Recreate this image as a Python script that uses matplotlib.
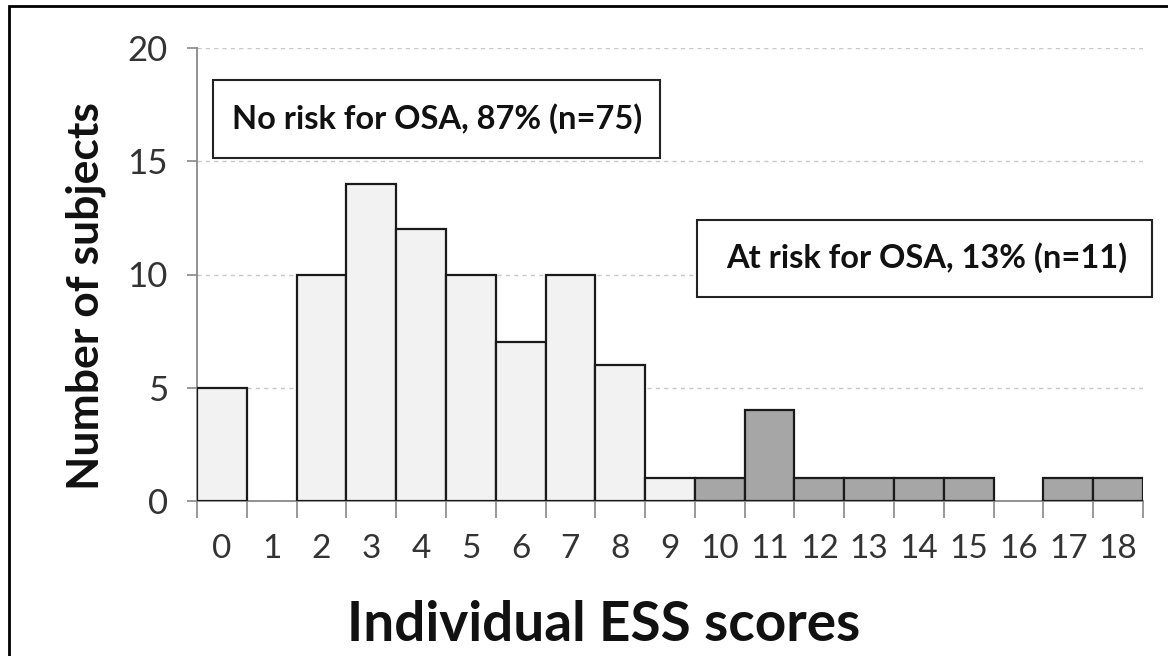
import matplotlib
matplotlib.use("Agg")
import matplotlib.pyplot as plt
import numpy as np
from matplotlib.patches import Rectangle

scores = list(range(19))
no_risk = [5, 0, 10, 14, 12, 10, 7, 10, 6, 1, 0, 0, 0, 0, 0, 0, 0, 0, 0]
at_risk = [0, 0, 0, 0, 0, 0, 0, 0, 0, 0, 1, 4, 1, 1, 1, 1, 0, 1, 1]
y_ticks = [0, 5, 10, 15, 20]
label_no = "No risk for OSA, 87% (n=75)"
label_at = "At risk for OSA, 13% (n=11)"

plt.rcParams['font.family'] = ['Lato', 'DejaVu Sans']

fig = plt.figure(figsize=(11.68, 6.56), dpi=100)
ax = fig.add_axes([197/1168, 1-501/656, (1143-197)/1168, (501-48)/656])

x = np.array(scores)
nr = np.array(no_risk)
ar = np.array(at_risk)
ax.bar(x[nr > 0], nr[nr > 0], width=1.0, color='#f2f2f2', edgecolor='#1a1a1a', linewidth=1.6, zorder=3)
ax.bar(x[ar > 0], ar[ar > 0], width=1.0, color='#a6a6a6', edgecolor='#1a1a1a', linewidth=1.6, zorder=3)

ax.set_xlim(-0.5, 18.5)
ax.set_ylim(0, 20)
ax.set_yticks(y_ticks)
ax.set_yticklabels([str(v) for v in y_ticks], fontsize=25, color='#333333')
ax.yaxis.grid(True, linestyle=(0, (3, 3)), color='#c8c8c8', linewidth=1.0, zorder=0)

ax.set_xticks(np.arange(-0.5, 19, 1.0))
ax.set_xticklabels([])
ax.set_xticks(x, minor=True)
ax.set_xticklabels([str(s) for s in scores], minor=True, fontsize=24, color='#333333')
ax.tick_params(axis='x', which='major', length=12, width=1.2, color='#888888', direction='out')
ax.tick_params(axis='x', which='minor', length=0, pad=24)
ax.tick_params(axis='y', length=7, width=1.2, color='#888888', pad=14)

for s in ['top', 'right']:
    ax.spines[s].set_visible(False)
for s in ['left', 'bottom']:
    ax.spines[s].set_color('#888888')
    ax.spines[s].set_linewidth(1.3)

fig.text(86/1168, 1-296/656, "Number of subjects", fontsize=32, fontweight='bold', rotation=90,
         ha='center', va='center', color='#111111')
fig.text(604/1168, 1-625/656, "Individual ESS scores", fontsize=39.5, fontweight='bold', ha='center', va='center', color='#111111')

fig.patches.append(Rectangle((213/1168, 1-158/656), (660-213)/1168, 78/656, transform=fig.transFigure,
                             fill=True, facecolor='white', edgecolor='#222222', linewidth=1.5, zorder=5))
fig.patches.append(Rectangle((697/1168, 1-297/656), (1152-697)/1168, 77/656, transform=fig.transFigure,
                             fill=True, facecolor='white', edgecolor='#222222', linewidth=1.5, zorder=5))
fig.text(437/1168, 1-119/656, label_no, fontsize=23.5, fontweight='bold', ha='center', va='center', color='#111111', zorder=6)
fig.text(927/1168, 1-258/656, label_at, fontsize=23.5, fontweight='bold', ha='center', va='center', color='#111111', zorder=6)

# outer frame
fig.patches.append(Rectangle((9/1168, -0.05), 1.2, 1-6/656+0.05, transform=fig.transFigure,
                             fill=False, edgecolor='black', linewidth=2, zorder=10))

fig.savefig("out.png", dpi=100)
